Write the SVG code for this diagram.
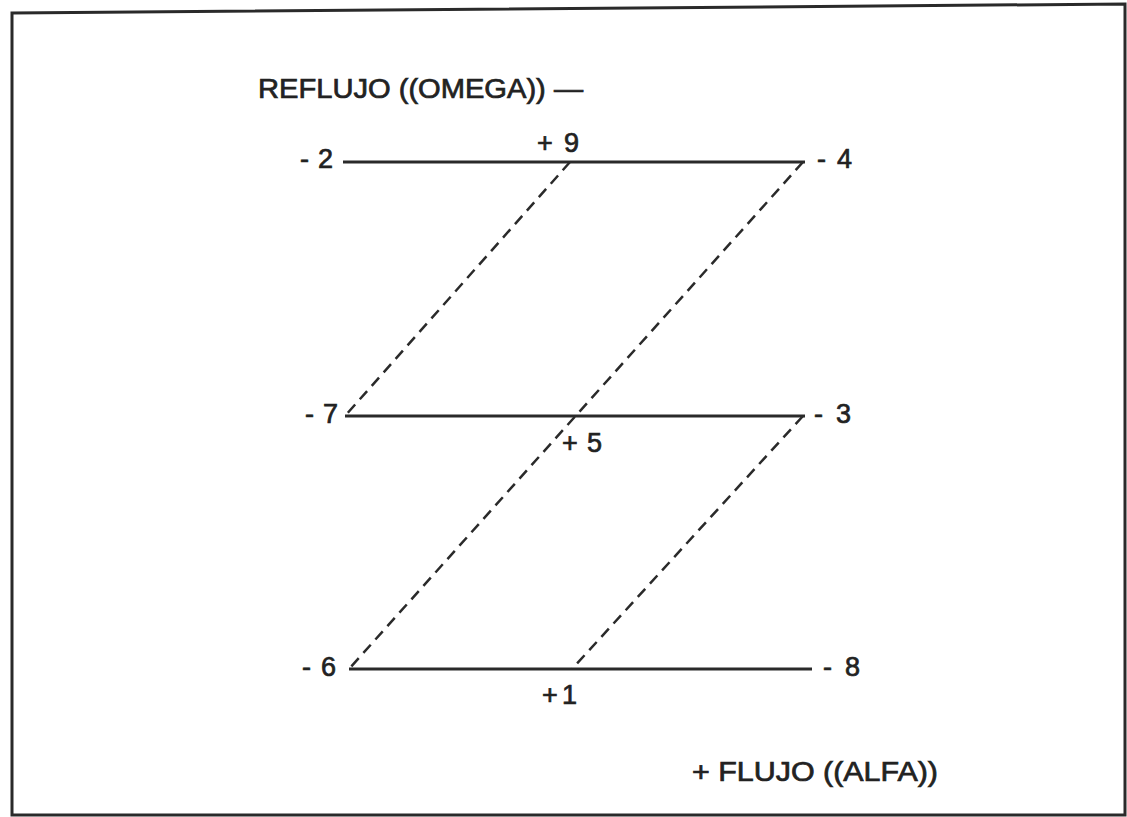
<svg xmlns="http://www.w3.org/2000/svg" width="1127" height="817" viewBox="0 0 1127 817">
<style>
.t{font-family:"Liberation Sans",Arial,sans-serif;fill:#222;stroke:#222;stroke-width:0.7}
.n{font-size:27px}
.h{font-size:27px}
.solid{stroke:#2a2a2a;stroke-width:3;fill:none}
.dash{stroke:#2a2a2a;stroke-width:2.5;fill:none;stroke-dasharray:11 7}
</style>
<rect width="1127" height="817" fill="#fff"/>
<path d="M12,13 L1125,4 L1125,815 L12,815 Z" fill="none" stroke="#2a2a2a" stroke-width="3"/>
<g id="connectors">
<line class="solid" x1="343" y1="162" x2="805" y2="162"/>
<line class="solid" x1="345" y1="416" x2="805" y2="416"/>
<line class="solid" x1="349" y1="669" x2="812" y2="669"/>
<line class="dash" x1="570" y1="162" x2="345" y2="416"/>
<line class="dash" x1="803" y1="162" x2="349" y2="669"/>
<line class="dash" x1="803" y1="416" x2="572" y2="669"/>
</g>
<g id="title-top"><text class="t h" x="258" y="98" textLength="325" lengthAdjust="spacingAndGlyphs">REFLUJO ((OMEGA)) —</text></g>
<g id="title-bottom"><text class="t h" x="692" y="781" textLength="246" lengthAdjust="spacingAndGlyphs">+ FLUJO ((ALFA))</text></g>
<g id="n-2"><text class="t n" x="300" y="168" textLength="33" lengthAdjust="spacing">-2</text></g>
<g id="n+9"><text class="t n" x="537" y="152" textLength="42" lengthAdjust="spacing">+9</text></g>
<g id="n-4"><text class="t n" x="817" y="168" textLength="35" lengthAdjust="spacing">-4</text></g>
<g id="n-7"><text class="t n" x="305" y="423" textLength="33" lengthAdjust="spacing">-7</text></g>
<g id="n+5"><text class="t n" x="562" y="452" textLength="40" lengthAdjust="spacing">+5</text></g>
<g id="n-3"><text class="t n" x="814" y="423" textLength="37" lengthAdjust="spacing">-3</text></g>
<g id="n-6"><text class="t n" x="302" y="676" textLength="34" lengthAdjust="spacing">-6</text></g>
<g id="n+1"><text class="t n" x="542" y="704" textLength="35" lengthAdjust="spacing">+1</text></g>
<g id="n-8"><text class="t n" x="823" y="676" textLength="37" lengthAdjust="spacing">-8</text></g>
</svg>
